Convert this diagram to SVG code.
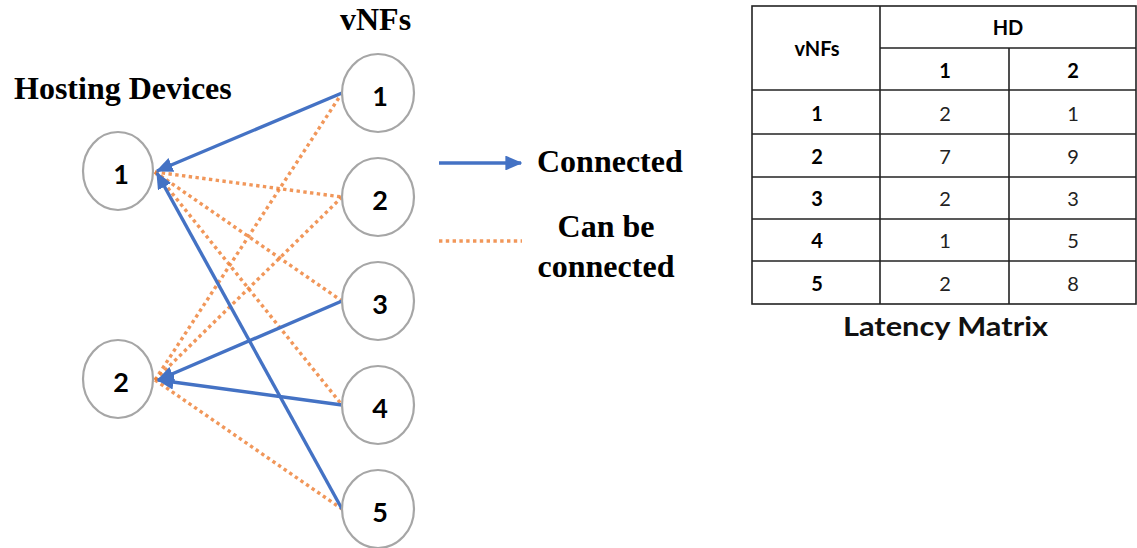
<svg xmlns="http://www.w3.org/2000/svg" width="1137" height="548" viewBox="0 0 1137 548">
  <style>
    .title { font-family: "Liberation Serif", "Times New Roman", serif; font-weight: bold; font-size: 32px; fill: #000; }
    .node { fill: #fff; stroke: #a6a6a6; stroke-width: 2.2; }
    .nlabel { font-family: Lato, "Open Sans", sans-serif; font-weight: bold; font-size: 27px; fill: #000; text-anchor: middle; }
    .conn { stroke: #4472c4; stroke-width: 3.4; fill: none; }
    .maybe { stroke: #ed7d31; stroke-width: 3.4; stroke-dasharray: 3.4 3.4; fill: none; opacity: 0.8; }
    .cell { fill: none; stroke: #222; stroke-width: 1.6; }
    .th { font-family: Lato, "Open Sans", sans-serif; font-weight: bold; font-size: 20px; fill: #000; text-anchor: middle; }
    .td { font-family: Lato, "Open Sans", sans-serif; font-size: 20px; fill: #222; text-anchor: middle; }
    .caption { font-family: Lato, "Open Sans", sans-serif; font-weight: bold; font-size: 26px; fill: #111; }
  </style>
  <defs>
    <marker id="arrow" markerWidth="5" markerHeight="4.4" refX="4.6" refY="2.2" orient="auto" markerUnits="strokeWidth">
      <path d="M0,0 L5,2.2 L0,4.4 Z" fill="#4472c4"/>
    </marker>
  </defs>

  <rect width="1137" height="548" fill="#fff"/>

  <!-- column headings -->
  <text class="title" x="14" y="99">Hosting Devices</text>
  <text class="title" x="340" y="30">vNFs</text>

  <!-- connectors -->
  <g id="connectors">
    <!-- possible placements -->
    <line class="maybe" x1="155" y1="172" x2="342" y2="197"/>
    <line class="maybe" x1="155" y1="172" x2="342" y2="301"/>
    <line class="maybe" x1="155" y1="172" x2="342" y2="405"/>
    <line class="maybe" x1="155" y1="380" x2="342" y2="93"/>
    <line class="maybe" x1="155" y1="380" x2="342" y2="197"/>
    <line class="maybe" x1="155" y1="380" x2="342" y2="509"/>
    <!-- actual placements -->
    <line class="conn" x1="342" y1="93" x2="157" y2="171" marker-end="url(#arrow)"/>
    <line class="conn" x1="342" y1="509" x2="157" y2="173" marker-end="url(#arrow)"/>
    <line class="conn" x1="342" y1="301" x2="158" y2="380" marker-end="url(#arrow)"/>
    <line class="conn" x1="342" y1="405" x2="158" y2="380" marker-end="url(#arrow)"/>
  </g>

  <!-- hosting devices -->
  <g id="hd1">
    <ellipse class="node" cx="118" cy="171" rx="35" ry="39"/>
    <text class="nlabel" x="121" y="184">1</text>
  </g>
  <g id="hd2">
    <ellipse class="node" cx="118" cy="379" rx="35" ry="39"/>
    <text class="nlabel" x="121" y="392">2</text>
  </g>

  <!-- virtual network functions -->
  <g id="vnf1">
    <ellipse class="node" cx="378" cy="93" rx="36" ry="39"/>
    <text class="nlabel" x="380" y="106">1</text>
  </g>
  <g id="vnf2">
    <ellipse class="node" cx="378" cy="197" rx="36" ry="39"/>
    <text class="nlabel" x="380" y="210">2</text>
  </g>
  <g id="vnf3">
    <ellipse class="node" cx="378" cy="301" rx="36" ry="39"/>
    <text class="nlabel" x="380" y="314">3</text>
  </g>
  <g id="vnf4">
    <ellipse class="node" cx="378" cy="405" rx="36" ry="39"/>
    <text class="nlabel" x="380" y="418">4</text>
  </g>
  <g id="vnf5">
    <ellipse class="node" cx="378" cy="509" rx="36" ry="39"/>
    <text class="nlabel" x="380" y="522">5</text>
  </g>

  <!-- legend -->
  <g id="legend">
    <line class="conn" x1="439" y1="163" x2="521" y2="163" marker-end="url(#arrow)"/>
    <text class="title" x="537" y="172">Connected</text>
    <line class="maybe" x1="439" y1="241" x2="522" y2="241"/>
    <text class="title" x="606" y="237" text-anchor="middle">Can be</text>
    <text class="title" x="606" y="277" text-anchor="middle">connected</text>
  </g>

  <!-- latency matrix -->
  <g id="latency-matrix">
    <rect class="cell" x="752" y="6" width="384" height="298"/>
    <line class="cell" x1="880" y1="6" x2="880" y2="304"/>
    <line class="cell" x1="1009" y1="48" x2="1009" y2="304"/>
    <line class="cell" x1="880" y1="48" x2="1136" y2="48"/>
    <line class="cell" x1="752" y1="90" x2="1136" y2="90"/>
    <line class="cell" x1="752" y1="134" x2="1136" y2="134"/>
    <line class="cell" x1="752" y1="177" x2="1136" y2="177"/>
    <line class="cell" x1="752" y1="219" x2="1136" y2="219"/>
    <line class="cell" x1="752" y1="261" x2="1136" y2="261"/>

    <text class="th" x="817" y="56">vNFs</text>
    <text class="th" x="1008" y="35">HD</text>
    <text class="th" x="945" y="78">1</text>
    <text class="th" x="1073" y="78">2</text>

    <text class="th" x="817" y="121">1</text>
    <text class="td" x="945" y="121">2</text>
    <text class="td" x="1073" y="121">1</text>

    <text class="th" x="817" y="164">2</text>
    <text class="td" x="945" y="164">7</text>
    <text class="td" x="1073" y="164">9</text>

    <text class="th" x="817" y="206">3</text>
    <text class="td" x="945" y="206">2</text>
    <text class="td" x="1073" y="206">3</text>

    <text class="th" x="817" y="248">4</text>
    <text class="td" x="945" y="248">1</text>
    <text class="td" x="1073" y="248">5</text>

    <text class="th" x="817" y="291">5</text>
    <text class="td" x="945" y="291">2</text>
    <text class="td" x="1073" y="291">8</text>

    <text class="caption" x="843" y="336" textLength="205" lengthAdjust="spacingAndGlyphs">Latency Matrix</text>
  </g>
</svg>
